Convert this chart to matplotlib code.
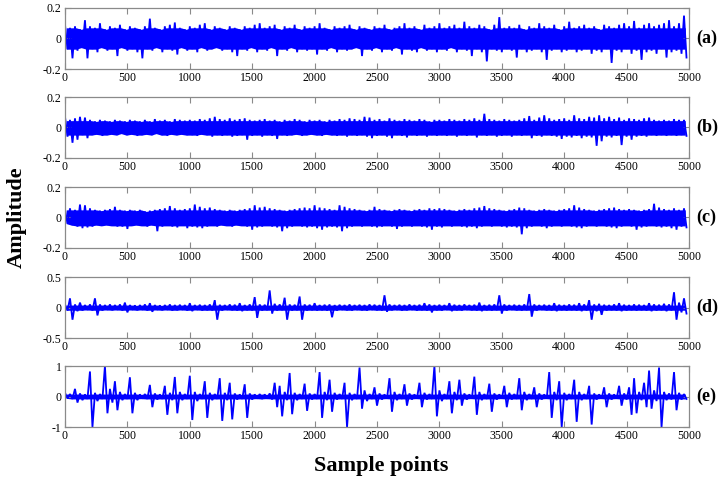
import numpy as np
import matplotlib
matplotlib.use("Agg")
import matplotlib.pyplot as plt

plt.rcParams['font.family'] = ['Liberation Serif', 'DejaVu Serif']
plt.rcParams['axes.unicode_minus'] = False

a_max = [0.09,0.07,0.08,0.06,0.12,0.08,0.07,0.10,0.06,0.08,0.07,0.09,0.06,0.08,0.07,0.06,0.08,0.13,0.07,0.06,0.08,0.09,0.105,0.07,0.06,
         0.08,0.07,0.09,0.10,0.06,0.08,0.07,0.06,0.08,0.07,0.06,0.08,0.07,0.09,0.10,0.07,0.08,0.09,0.06,0.08,0.07,0.09,0.06,0.08,0.07,
         0.08,0.10,0.07,0.06,0.08,0.07,0.08,0.09,0.06,0.08,0.07,0.06,0.08,0.07,0.09,0.06,0.07,0.08,0.10,0.07,0.08,0.06,0.09,0.07,0.08,
         0.10,0.07,0.08,0.09,0.07,0.11,0.08,0.07,0.09,0.08,0.06,0.09,0.14,0.07,0.08,0.07,0.09,0.06,0.08,0.07,0.10,0.08,0.07,0.09,0.06,
         0.08,0.11,0.07,0.08,0.09,0.07,0.08,0.06,0.09,0.08,0.07,0.09,0.10,0.08,0.115,0.07,0.09,0.10,0.08,0.09,0.10,0.12,0.08,0.10,0.15]
a_min = [-0.07,-0.13,-0.08,-0.06,-0.13,-0.07,-0.09,-0.06,-0.08,-0.07,-0.115,-0.06,-0.08,-0.07,-0.09,-0.13,-0.07,-0.08,-0.06,-0.09,-0.07,-0.08,-0.105,-0.06,-0.08,
         -0.07,-0.09,-0.06,-0.08,-0.07,-0.06,-0.08,-0.07,-0.09,-0.115,-0.07,-0.08,-0.06,-0.09,-0.07,-0.08,-0.06,-0.115,-0.07,-0.08,-0.06,-0.09,-0.07,-0.08,-0.07,
         -0.105,-0.07,-0.08,-0.06,-0.09,-0.07,-0.08,-0.07,-0.06,-0.115,-0.07,-0.08,-0.06,-0.09,-0.07,-0.08,-0.06,-0.105,-0.07,-0.08,-0.09,-0.06,-0.08,-0.07,-0.09,
         -0.07,-0.08,-0.06,-0.09,-0.07,-0.08,-0.115,-0.07,-0.09,-0.15,-0.07,-0.08,-0.09,-0.07,-0.08,-0.125,-0.07,-0.09,-0.08,-0.07,-0.09,-0.14,-0.08,-0.07,-0.09,
         -0.08,-0.07,-0.09,-0.08,-0.07,-0.10,-0.08,-0.09,-0.07,-0.16,-0.08,-0.09,-0.07,-0.10,-0.08,-0.14,-0.09,-0.08,-0.10,-0.07,-0.125,-0.09,-0.08,-0.10,-0.125]

b_max = [0.07,0.05,0.06,0.07,0.065,0.05,0.04,0.05,0.045,0.04,0.05,0.045,0.04,0.05,0.045,0.04,0.05,0.04,0.055,0.045,0.05,0.04,0.055,0.05,0.045,
         0.05,0.045,0.055,0.05,0.06,0.07,0.055,0.05,0.06,0.05,0.055,0.06,0.05,0.045,0.05,0.055,0.045,0.05,0.04,0.05,0.045,0.055,0.05,0.04,0.05,
         0.045,0.05,0.04,0.05,0.045,0.055,0.05,0.06,0.055,0.05,0.07,0.065,0.05,0.055,0.045,0.06,0.05,0.045,0.055,0.05,0.045,0.055,0.05,0.04,0.05,
         0.05,0.045,0.055,0.05,0.045,0.055,0.05,0.06,0.05,0.09,0.055,0.05,0.045,0.055,0.05,0.045,0.05,0.06,0.075,0.05,0.065,0.08,0.06,0.05,0.055,
         0.06,0.05,0.08,0.06,0.055,0.07,0.065,0.08,0.06,0.07,0.055,0.065,0.05,0.06,0.055,0.05,0.06,0.065,0.05,0.045,0.05,0.045,0.055,0.05,0.05]
b_min = [-0.06,-0.10,-0.08,-0.05,-0.07,-0.05,-0.045,-0.055,-0.05,-0.045,-0.05,-0.04,-0.05,-0.045,-0.055,-0.05,-0.045,-0.05,-0.04,-0.05,-0.055,-0.045,-0.05,-0.045,-0.05,
         -0.05,-0.055,-0.045,-0.05,-0.06,-0.05,-0.055,-0.05,-0.06,-0.055,-0.05,-0.08,-0.055,-0.05,-0.06,-0.05,-0.055,-0.075,-0.05,-0.055,-0.05,-0.045,-0.055,-0.05,-0.045,
         -0.05,-0.055,-0.045,-0.05,-0.055,-0.05,-0.06,-0.05,-0.055,-0.05,-0.06,-0.07,-0.055,-0.05,-0.06,-0.07,-0.05,-0.055,-0.065,-0.05,-0.055,-0.05,-0.06,-0.05,-0.055,
         -0.05,-0.055,-0.05,-0.06,-0.05,-0.055,-0.05,-0.065,-0.05,-0.055,-0.05,-0.06,-0.055,-0.05,-0.06,-0.05,-0.055,-0.05,-0.07,-0.055,-0.06,-0.05,-0.055,-0.06,-0.075,
         -0.06,-0.065,-0.055,-0.07,-0.06,-0.065,-0.12,-0.09,-0.06,-0.065,-0.055,-0.115,-0.06,-0.08,-0.06,-0.055,-0.06,-0.05,-0.055,-0.05,-0.055,-0.05,-0.055,-0.05,-0.055]

c_max = [0.05,0.06,0.05,0.085,0.08,0.06,0.05,0.045,0.05,0.055,0.07,0.05,0.045,0.05,0.045,0.05,0.04,0.045,0.05,0.055,0.06,0.075,0.06,0.05,0.055,
         0.06,0.085,0.07,0.06,0.065,0.055,0.05,0.045,0.05,0.045,0.05,0.055,0.06,0.08,0.065,0.07,0.06,0.055,0.05,0.045,0.05,0.055,0.06,0.065,0.06,
         0.08,0.065,0.06,0.055,0.05,0.08,0.07,0.06,0.055,0.05,0.045,0.05,0.07,0.055,0.05,0.045,0.05,0.055,0.05,0.045,0.05,0.055,0.05,0.06,0.055,
         0.06,0.055,0.05,0.045,0.05,0.055,0.05,0.06,0.065,0.075,0.06,0.055,0.05,0.045,0.05,0.055,0.065,0.06,0.05,0.045,0.05,0.055,0.05,0.045,0.05,
         0.055,0.06,0.08,0.065,0.055,0.05,0.045,0.05,0.055,0.06,0.065,0.055,0.05,0.055,0.05,0.045,0.05,0.055,0.09,0.065,0.055,0.05,0.06,0.05,0.06]
c_min = [-0.04,-0.05,-0.06,-0.07,-0.065,-0.06,-0.05,-0.055,-0.05,-0.055,-0.06,-0.06,-0.075,-0.055,-0.05,-0.055,-0.06,-0.05,-0.09,-0.06,-0.055,-0.06,-0.065,-0.055,-0.07,
         -0.06,-0.065,-0.07,-0.06,-0.055,-0.06,-0.05,-0.055,-0.06,-0.05,-0.055,-0.06,-0.08,-0.065,-0.06,-0.055,-0.06,-0.065,-0.09,-0.07,-0.06,-0.055,-0.06,-0.065,-0.06,
         -0.07,-0.08,-0.065,-0.06,-0.065,-0.09,-0.07,-0.06,-0.055,-0.06,-0.055,-0.06,-0.065,-0.06,-0.055,-0.06,-0.075,-0.06,-0.055,-0.06,-0.055,-0.06,-0.065,-0.08,-0.06,
         -0.065,-0.055,-0.06,-0.055,-0.06,-0.065,-0.06,-0.07,-0.06,-0.055,-0.06,-0.055,-0.06,-0.065,-0.06,-0.065,-0.11,-0.07,-0.06,-0.055,-0.06,-0.07,-0.06,-0.055,-0.06,
         -0.055,-0.06,-0.065,-0.07,-0.06,-0.055,-0.06,-0.055,-0.06,-0.065,-0.07,-0.06,-0.055,-0.06,-0.08,-0.065,-0.06,-0.055,-0.06,-0.065,-0.06,-0.07,-0.08,-0.06,-0.065]

d_max = [0.05,0.15,0.05,0.08,0.04,0.05,0.15,0.05,0.04,0.05,0.04,0.05,0.08,0.04,0.035,0.04,0.05,0.07,0.04,0.035,0.04,0.05,0.04,0.045,0.04,
         0.07,0.04,0.045,0.04,0.05,0.12,0.045,0.04,0.05,0.045,0.07,0.04,0.05,0.17,0.05,0.045,0.28,0.06,0.05,0.16,0.05,0.045,0.18,0.05,0.045,
         0.07,0.04,0.045,0.05,0.04,0.045,0.04,0.05,0.04,0.045,0.04,0.05,0.045,0.04,0.2,0.05,0.04,0.045,0.04,0.05,0.04,0.045,0.07,0.05,0.04,
         0.045,0.04,0.07,0.045,0.04,0.05,0.04,0.045,0.08,0.04,0.045,0.05,0.2,0.05,0.04,0.045,0.04,0.05,0.22,0.05,0.04,0.045,0.04,0.07,0.045,
         0.04,0.05,0.045,0.07,0.05,0.12,0.05,0.06,0.045,0.04,0.05,0.07,0.045,0.04,0.05,0.045,0.04,0.07,0.05,0.045,0.06,0.05,0.25,0.08,0.15]
d_min = [-0.05,-0.2,-0.06,-0.05,-0.04,-0.05,-0.13,-0.05,-0.04,-0.045,-0.04,-0.05,-0.08,-0.04,-0.045,-0.04,-0.05,-0.07,-0.04,-0.045,-0.04,-0.05,-0.045,-0.04,-0.05,
         -0.06,-0.04,-0.05,-0.045,-0.05,-0.2,-0.05,-0.04,-0.045,-0.05,-0.06,-0.045,-0.05,-0.17,-0.05,-0.045,-0.1,-0.05,-0.045,-0.2,-0.05,-0.045,-0.2,-0.05,-0.045,
         -0.05,-0.045,-0.05,-0.16,-0.05,-0.04,-0.045,-0.05,-0.04,-0.045,-0.05,-0.04,-0.045,-0.05,-0.07,-0.045,-0.04,-0.05,-0.045,-0.04,-0.05,-0.045,-0.05,-0.08,-0.045,
         -0.05,-0.04,-0.06,-0.045,-0.05,-0.04,-0.045,-0.05,-0.06,-0.045,-0.05,-0.045,-0.1,-0.05,-0.04,-0.045,-0.05,-0.045,-0.15,-0.05,-0.04,-0.045,-0.05,-0.06,-0.045,
         -0.05,-0.045,-0.05,-0.06,-0.05,-0.2,-0.06,-0.12,-0.05,-0.045,-0.05,-0.06,-0.05,-0.045,-0.05,-0.045,-0.05,-0.06,-0.05,-0.045,-0.06,-0.05,-0.2,-0.08,-0.1]

e_max = [0.12,0.08,0.25,0.1,0.07,0.82,0.12,0.08,1.0,0.25,0.5,0.15,0.08,0.63,0.12,0.07,0.08,0.38,0.1,0.07,0.35,0.12,0.64,0.15,0.08,
         0.68,0.15,0.08,0.5,0.12,0.08,0.6,0.12,0.45,0.1,0.07,0.4,0.1,0.07,0.08,0.07,0.1,0.45,0.35,0.15,0.77,0.12,0.08,0.42,0.1,
         0.08,0.8,0.15,0.55,0.12,0.08,0.45,0.12,0.08,0.95,0.2,0.08,0.3,0.1,0.07,0.6,0.15,0.08,0.4,0.1,0.07,0.45,0.12,0.08,1.0,
         0.2,0.08,0.5,0.15,0.55,0.1,0.07,0.65,0.15,0.08,0.42,0.1,0.07,0.35,0.12,0.08,0.6,0.15,0.08,0.3,0.1,0.07,0.8,0.15,0.5,
         0.12,0.08,0.55,0.15,0.08,0.35,0.1,0.07,0.3,0.1,0.07,0.35,0.1,0.3,0.6,0.15,0.45,0.85,0.2,0.95,0.15,0.1,0.8,0.12,0.08]
e_min = [-0.06,-0.08,-0.2,-0.12,-0.08,-1.0,-0.15,-0.08,-0.55,-0.2,-0.45,-0.12,-0.08,-0.55,-0.12,-0.07,-0.08,-0.35,-0.1,-0.08,-0.6,-0.12,-0.55,-0.12,-0.08,
         -0.77,-0.15,-0.08,-0.7,-0.12,-0.08,-0.8,-0.12,-0.75,-0.1,-0.08,-0.7,-0.1,-0.07,-0.08,-0.07,-0.1,-0.35,-0.65,-0.12,-0.58,-0.12,-0.08,-0.47,-0.1,
         -0.08,-0.7,-0.12,-0.5,-0.1,-0.08,-1.0,-0.12,-0.08,-0.4,-0.15,-0.08,-0.3,-0.1,-0.07,-0.5,-0.12,-0.08,-0.3,-0.1,-0.07,-0.35,-0.1,-0.08,-0.65,
         -0.15,-0.08,-0.55,-0.12,-0.3,-0.1,-0.07,-0.6,-0.12,-0.08,-0.5,-0.1,-0.07,-0.35,-0.1,-0.08,-0.45,-0.12,-0.08,-0.35,-0.1,-0.07,-0.7,-0.12,-1.0,
         -0.12,-0.08,-0.83,-0.12,-0.08,-0.92,-0.1,-0.07,-0.35,-0.1,-0.07,-0.3,-0.1,-0.6,-0.55,-0.12,-0.35,-0.4,-0.15,-1.0,-0.12,-0.1,-0.45,-0.1,-0.08]

panel_labels = ['(a)', '(b)', '(c)', '(d)', '(e)']
y_limits = [0.2, 0.2, 0.2, 0.5, 1.0]
y_ticks = [[-0.2, 0, 0.2], [-0.2, 0, 0.2], [-0.2, 0, 0.2], [-0.5, 0, 0.5], [-1, 0, 1]]
y_ticklabels = [['-0.2', '0', '0.2'], ['-0.2', '0', '0.2'], ['-0.2', '0', '0.2'], ['-0.5', '0', '0.5'], ['-1', '0', '1']]
x_ticks = list(range(0, 5001, 500))
bin_width = 40
n_total = 5000
core_pct = 20  # dense core of the trace, taken from the bin extremes

series = [(a_max, a_min), (b_max, b_min), (c_max, c_min), (d_max, d_min), (e_max, e_min)]

W, H = 726, 490
fig = plt.figure(figsize=(W / 100, H / 100), dpi=100)

tops = [8, 97, 187, 277, 366]
ax_h = 61
left, right = 65, 689
spine_col = '#8a8a8a'
blue = '#0000ff'

for i, ((hi, lo), lab) in enumerate(zip(series, panel_labels)):
    top = tops[i]
    ax = fig.add_axes([left / W, 1 - (top + ax_h) / H, (right - left) / W, ax_h / H])
    hi = np.asarray(hi, float)
    lo = np.asarray(lo, float)
    # trace: alternate bin maxima and minima
    y = np.empty(hi.size * 2)
    y[0::2] = hi
    y[1::2] = lo
    x = np.arange(y.size) * (bin_width / 2)
    # solid core where the dense oscillation fills every pixel column
    core_hi = np.percentile(hi, core_pct)
    core_lo = np.percentile(lo, 100 - core_pct)
    xc = np.arange(hi.size) * bin_width + bin_width / 4
    ax.fill_between(xc, np.maximum(lo, core_lo), np.minimum(hi, core_hi),
                    color=blue, lw=0)
    ax.plot(x, y, color=blue, lw=1.3, solid_joinstyle='miter')
    ax.set_xlim(0, n_total)
    ax.set_ylim(-y_limits[i], y_limits[i])
    ax.set_xticks(x_ticks)
    ax.set_xticklabels([str(t) for t in x_ticks])
    ax.set_yticks(y_ticks[i])
    ax.set_yticklabels(y_ticklabels[i])
    ax.tick_params(direction='in', length=4, width=0.8, color=spine_col,
                   labelsize=8.5, top=True, right=True, pad=2.5, labelcolor='black')
    for s in ax.spines.values():
        s.set_color(spine_col)
        s.set_linewidth(0.9)
    ax.text(1.012, 0.5, lab, transform=ax.transAxes, ha='left', va='center',
            fontsize=13, fontweight='bold')

fig.text(17 / W, 1 - 217 / H, 'Amplitude', rotation=90, ha='center', va='center',
         fontsize=16, fontweight='bold')
fig.text(381 / W, 1 - 466 / H, 'Sample points', ha='center', va='center',
         fontsize=16, fontweight='bold')

fig.savefig('out.png', dpi=100)
